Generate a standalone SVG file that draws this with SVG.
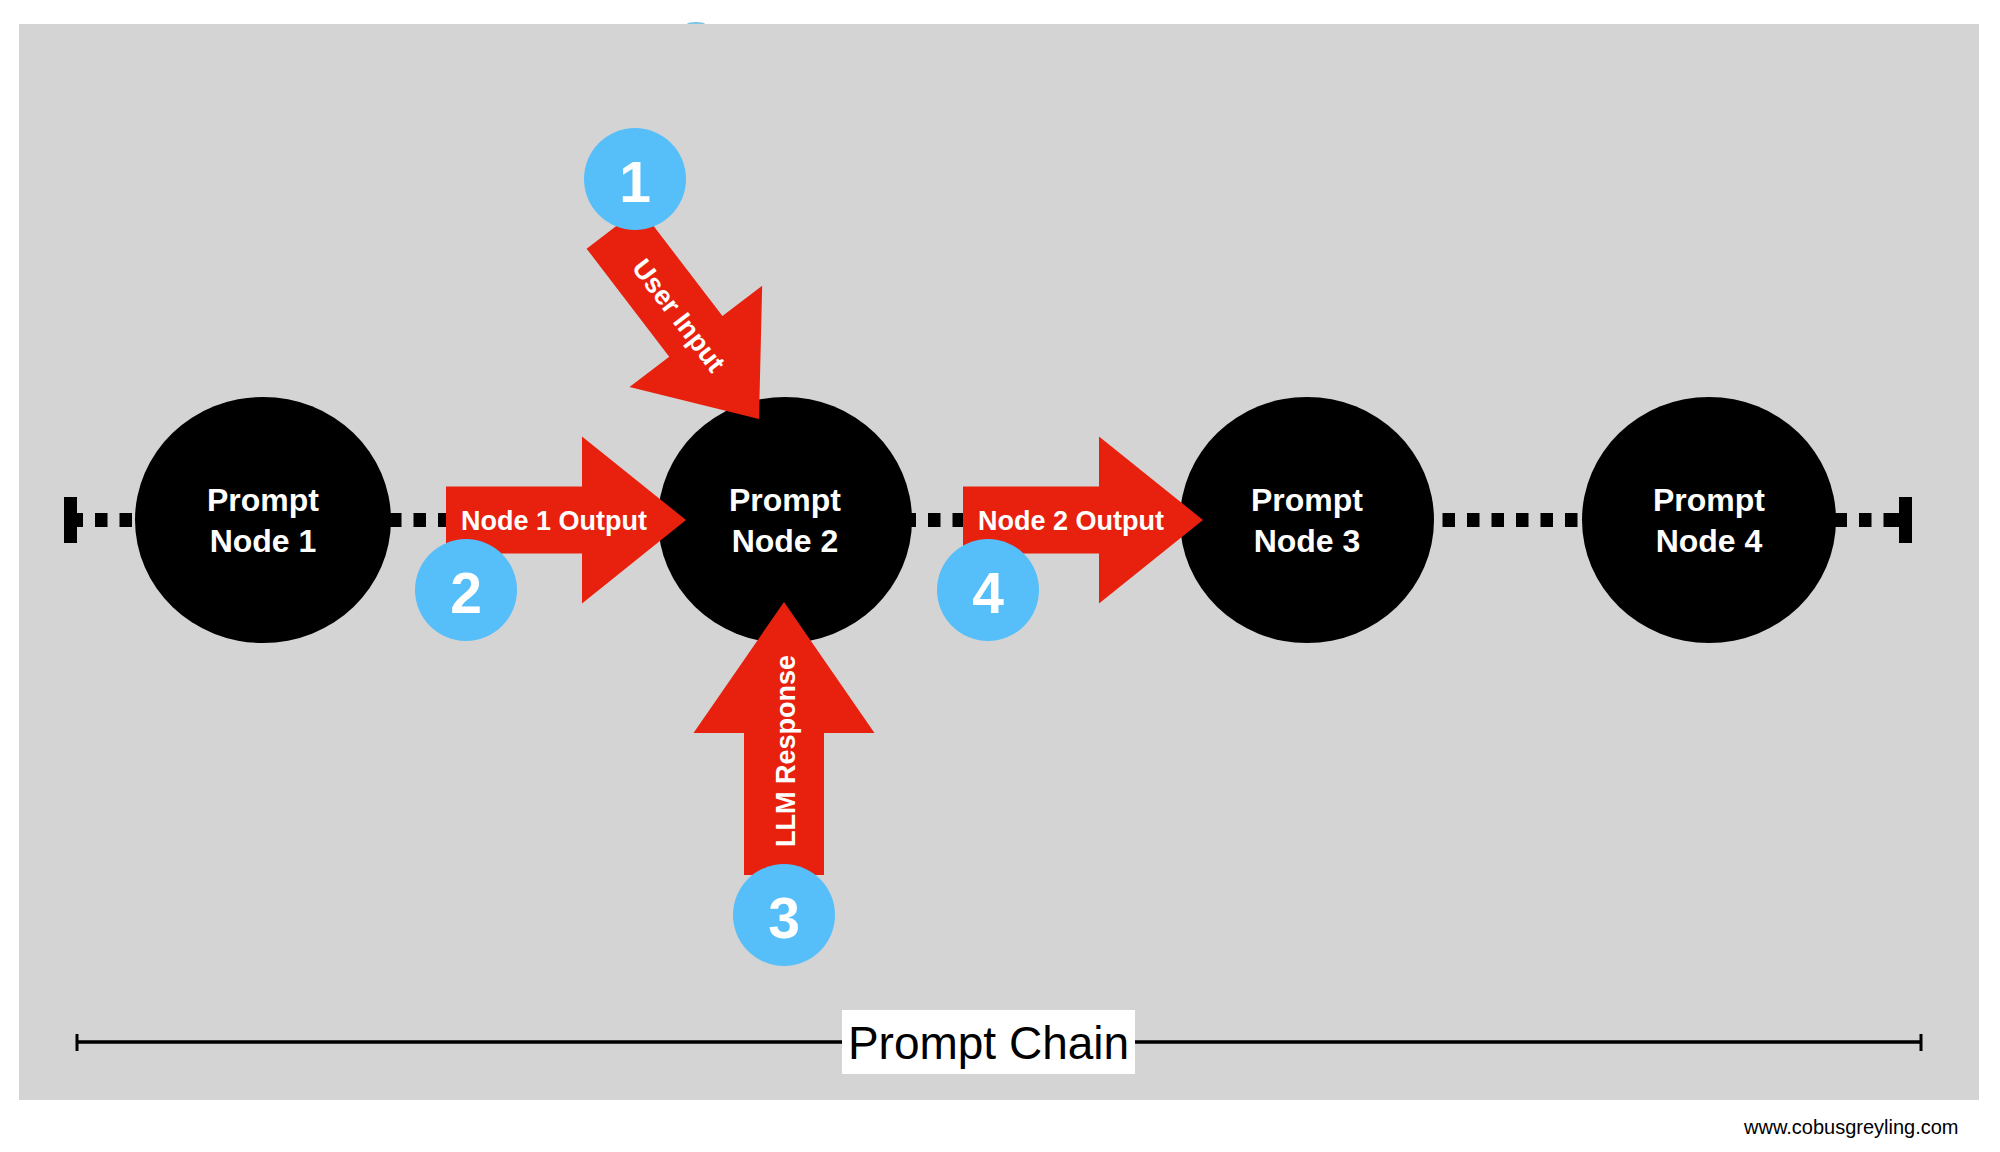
<svg xmlns="http://www.w3.org/2000/svg" xmlns:xlink="http://www.w3.org/1999/xlink" width="2000" height="1152" viewBox="0 0 2000 1152">
  <style>
    .node { fill: #000000; }
    .ntext { fill: #ffffff; font-family: "Liberation Sans", Arial, sans-serif; font-weight: bold; font-size: 32px; text-anchor: middle; }
    .arrow { fill: #e8210e; }
    .atext { fill: #ffffff; font-family: "Liberation Sans", Arial, sans-serif; font-weight: bold; font-size: 27px; text-anchor: middle; }
    .badge { fill: #56bef9; }
    .btext { fill: #ffffff; font-family: "Liberation Sans", Arial, sans-serif; font-weight: bold; font-size: 57px; text-anchor: middle; }
    .dots { stroke: #000000; stroke-width: 14; stroke-dasharray: 12.5 12; fill: none; }
  </style>
  <defs>
    <polygon id="arrowH" points="-240,-33.5 -104,-33.5 -104,-83.5 0,0 -104,83.5 -104,33.5 -240,33.5"/>
    <polygon id="arrowV" points="-273,-40 -131,-40 -131,-90.5 0,0 -131,90.5 -131,40 -273,40"/>
  </defs>

  <rect x="0" y="0" width="2000" height="1152" fill="#ffffff"/>
  <ellipse cx="696" cy="24" rx="9" ry="2" fill="#7cc6e6"/>
  <rect x="19" y="24" width="1960" height="1076" fill="#d4d4d4"/>

  <g id="connectors">
    <path class="dots" d="M95,520 H1897"/>
    <rect x="64" y="497" width="13" height="46" fill="#000"/>
    <rect x="77" y="513" width="6" height="14" fill="#000"/>
    <rect x="1899" y="497" width="13" height="46" fill="#000"/>
    <rect x="1895" y="513" width="5" height="14" fill="#000"/>
  </g>

  <g id="node1">
    <ellipse class="node" cx="263" cy="520" rx="128" ry="123"/>
    <text class="ntext" x="263" y="511">Prompt</text>
    <text class="ntext" x="263" y="552">Node 1</text>
  </g>
  <g id="node2">
    <ellipse class="node" cx="785" cy="520" rx="127" ry="123"/>
    <text class="ntext" x="785" y="511">Prompt</text>
    <text class="ntext" x="785" y="552">Node 2</text>
  </g>
  <g id="node3">
    <ellipse class="node" cx="1307" cy="520" rx="127" ry="123"/>
    <text class="ntext" x="1307" y="511">Prompt</text>
    <text class="ntext" x="1307" y="552">Node 3</text>
  </g>
  <g id="node4">
    <ellipse class="node" cx="1709" cy="520" rx="127" ry="123"/>
    <text class="ntext" x="1709" y="511">Prompt</text>
    <text class="ntext" x="1709" y="552">Node 4</text>
  </g>

  <g id="arrows">
    <g id="arrow-user-input" transform="translate(759,419) rotate(52.6)">
      <use href="#arrowH" xlink:href="#arrowH" class="arrow"/>
      <text class="atext" x="-131" y="10">User Input</text>
    </g>
    <g id="arrow-node1-output" transform="translate(686,520)">
      <use href="#arrowH" xlink:href="#arrowH" class="arrow"/>
      <text class="atext" x="-132" y="10">Node 1 Output</text>
    </g>
    <g id="arrow-llm-response" transform="translate(784,602) rotate(-90)">
      <use href="#arrowV" xlink:href="#arrowV" class="arrow"/>
      <text class="atext" x="-149" y="11">LLM Response</text>
    </g>
    <g id="arrow-node2-output" transform="translate(1203,520)">
      <use href="#arrowH" xlink:href="#arrowH" class="arrow"/>
      <text class="atext" x="-132" y="10">Node 2 Output</text>
    </g>
  </g>

  <g id="badge1">
    <circle class="badge" cx="635" cy="179" r="51"/>
    <text class="btext" x="635" y="202">1</text>
  </g>
  <g id="badge2">
    <circle class="badge" cx="466" cy="590" r="51"/>
    <text class="btext" x="466" y="613">2</text>
  </g>
  <g id="badge3">
    <circle class="badge" cx="784" cy="915" r="51"/>
    <text class="btext" x="784" y="938">3</text>
  </g>
  <g id="badge4">
    <circle class="badge" cx="988" cy="590" r="51"/>
    <text class="btext" x="988" y="613">4</text>
  </g>

  <g id="prompt-chain">
    <line x1="77" y1="1042" x2="1921" y2="1042" stroke="#000" stroke-width="3.5"/>
    <line x1="77" y1="1034" x2="77" y2="1051" stroke="#000" stroke-width="3"/>
    <line x1="1921" y1="1034" x2="1921" y2="1051" stroke="#000" stroke-width="3"/>
    <rect x="842" y="1010" width="293" height="64" fill="#ffffff"/>
    <text x="988.5" y="1059" font-family="'Liberation Sans', Arial, sans-serif" font-size="46" text-anchor="middle" fill="#000">Prompt Chain</text>
  </g>

  <text x="1744" y="1134" font-family="'Liberation Sans', Arial, sans-serif" font-size="20" fill="#000">www.cobusgreyling.com</text>
</svg>
